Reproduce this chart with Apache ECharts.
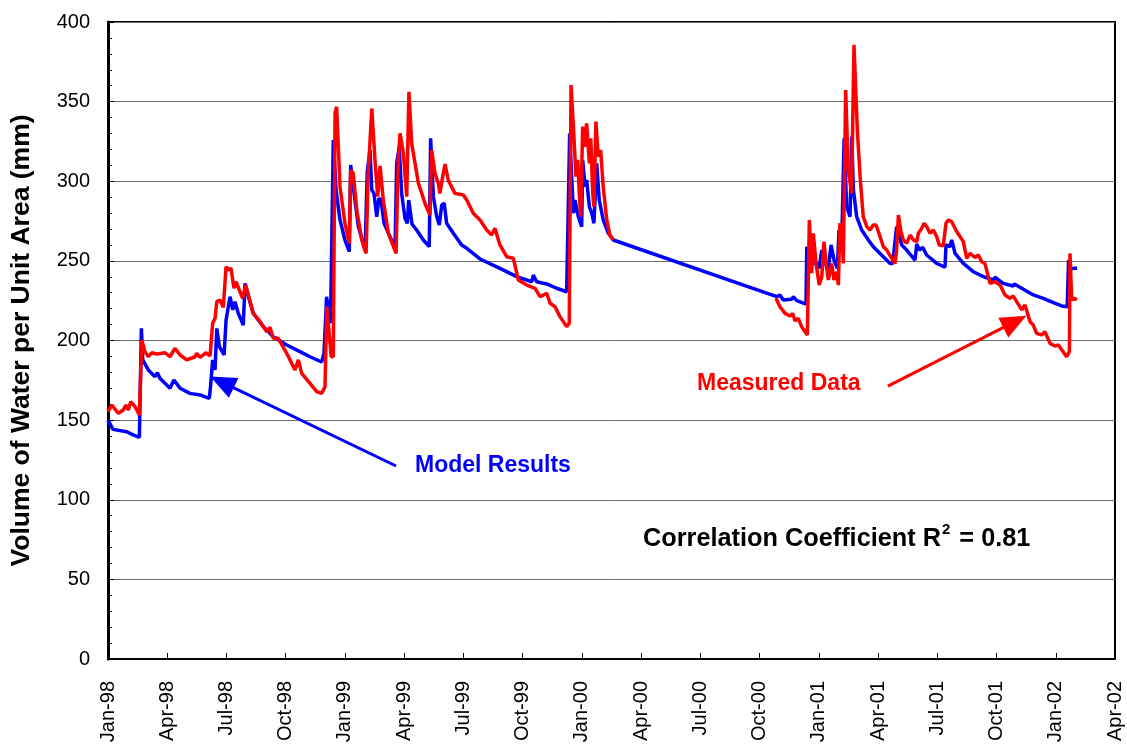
<!DOCTYPE html>
<html>
<head>
<meta charset="utf-8">
<script src="https://cdn.jsdelivr.net/npm/echarts@6/dist/echarts.min.js"></script>
<style>html,body{margin:0;padding:0;background:#fff}#c{width:1127px;height:748px}</style>
</head>
<body>
<div id="c"></div>
<script>
// x values are months since 1 Jan 1998
const modelX = [0,0.25,0.95,1.27,1.59,1.69,1.76,2.04,2.38,2.50,2.63,3.14,3.34,3.65,4.15,4.66,5.13,5.20,5.30,5.42,5.51,5.64,5.88,5.98,6.18,6.32,6.43,6.60,6.85,6.94,7.11,7.36,7.87,8.37,9.05,9.72,10.23,10.82,10.94,11.07,11.27,11.41,11.55,11.75,12.00,12.22,12.29,12.42,12.68,13.02,13.13,13.27,13.36,13.47,13.61,13.72,13.83,13.98,14.28,14.54,14.62,14.75,14.87,15.04,15.16,15.23,15.40,15.63,15.97,16.27,16.34,16.48,16.65,16.78,16.90,17.03,17.15,17.49,17.91,18.17,18.84,19.85,20.70,21.46,21.54,21.71,22.22,22.72,23.23,23.33,23.38,23.57,23.65,23.82,23.99,24.04,24.16,24.24,24.38,24.50,24.61,24.75,24.88,25.08,25.34,25.59,33.87,34.03,34.20,34.62,34.71,34.88,35.35,35.39,35.55,35.89,36.02,36.15,36.31,36.48,36.62,36.77,36.94,37.02,37.16,37.28,37.41,37.58,37.67,37.75,37.92,38.17,38.51,38.76,39.10,39.61,39.74,39.94,40.20,40.45,40.87,40.96,41.09,41.26,41.46,41.97,42.39,42.44,42.64,42.73,42.90,43.32,43.82,44.33,44.84,44.92,45.34,45.84,45.90,46.36,46.86,47.37,47.88,48.30,48.58,48.65,48.77,48.87,49.08];
const modelY = [150,144.2,142.7,140.7,139.2,207.6,187.8,181.5,177.3,179.8,176.3,170.0,175.2,170.0,166.8,165.8,163.7,172,187.8,181.5,207.6,196.1,190.9,212.9,227.5,219.2,224.4,217,209.7,235.9,227.5,217,208.7,202.4,197.2,193,189.8,186.5,192,227.5,210.8,325.9,294.5,275.7,263.1,255.8,310.2,296.6,271.5,256.8,306,319.6,294.5,292.4,277.7,289.3,288.2,273.6,265.2,258.9,311.2,321.7,292.4,276.7,273.6,288.2,273,269.4,263.1,258.9,327,290.3,277.7,272.5,285,286.2,273.6,267.3,260,257.9,251.2,245.3,240.1,236.9,241.1,236.9,235.5,232.8,230.6,231,330,279.9,288.2,277.7,271.5,313.4,296.6,300.8,284,279.9,273.6,311.2,288.2,275.7,267.3,263.1,227.5,228.6,225.4,225.9,227.5,225,222.9,258.9,248.4,248.4,245.3,256.8,248.4,245.3,260,250.5,245.3,269.4,261,327,284,277.7,328,294.5,277.7,269.4,263.1,258.9,254.7,248.4,248.4,271.5,260,256.8,250.5,260.6,256.8,258.5,253.7,248.4,246,260,258.9,263.1,254.7,248.4,243.2,240.1,238,239.7,235.9,234.2,235.5,232.2,228.6,226.5,223.8,221.7,221.2,250.5,245,244.3,245.5];

const measuredX = [0,0.19,0.52,0.77,0.91,1.03,1.15,1.37,1.59,1.71,1.87,2.04,2.21,2.47,2.89,3.14,3.39,3.65,3.99,4.41,4.49,4.66,4.96,5.17,5.30,5.42,5.51,5.67,5.84,5.98,6.09,6.23,6.38,6.48,6.65,6.82,6.97,7.11,7.36,7.70,8.04,8.20,8.37,8.62,9.05,9.47,9.64,9.81,10.23,10.57,10.82,10.99,11.08,11.20,11.30,11.41,11.50,11.58,11.75,12.00,12.22,12.29,12.42,12.60,12.85,13.07,13.18,13.36,13.52,13.66,13.78,13.94,14.20,14.59,14.70,14.79,14.96,15.13,15.24,15.38,15.72,15.89,16.05,16.31,16.39,16.56,16.73,16.81,16.95,17.07,17.23,17.57,18.00,18.17,18.50,18.84,19.18,19.43,19.60,19.85,20.19,20.53,20.78,21.21,21.63,21.88,22.22,22.39,22.64,22.89,23.23,23.36,23.45,23.57,23.70,23.79,23.87,23.94,24.04,24.16,24.24,24.38,24.45,24.55,24.61,24.71,24.83,24.95,25.08,25.26,25.42,25.59,29.7,33.83,34.03,34.29,34.54,34.68,34.79,34.96,35.13,35.42,35.52,35.64,35.72,35.86,36.02,36.15,36.26,36.37,36.48,36.65,36.77,36.91,36.99,37.07,37.16,37.24,37.36,37.49,37.66,37.78,37.95,38.09,38.25,38.43,38.59,38.76,38.90,39.10,39.27,39.44,39.69,39.86,39.94,40.03,40.15,40.28,40.45,40.62,40.79,40.96,41.04,41.21,41.33,41.46,41.63,41.80,41.97,42.10,42.30,42.44,42.56,42.73,42.98,43.32,43.49,43.66,43.91,44.08,44.25,44.41,44.67,44.92,45.18,45.43,45.68,45.85,46.02,46.28,46.44,46.70,46.86,47.03,47.29,47.45,47.71,47.96,48.13,48.37,48.55,48.69,48.72,48.81,48.95,49.06];
const measuredY = [155.3,159.5,154.3,156.4,159.5,156.4,161.6,158.5,153.2,200.3,193,189.8,192.3,191.5,192.3,189.8,195.1,190.9,187.8,189.8,192,189.4,192.3,190.3,210.8,213.9,224.4,225.4,220.8,246.4,244.3,245.3,232.8,236.9,231.7,226.5,234.8,228.6,217,211.8,205.5,208.3,201.4,201.4,192,181.5,187.8,179.4,173.1,167.9,166.8,171,221.3,205,190,189.8,342.7,346.8,296.6,273.6,261,307.1,305,281.9,263.1,254.7,305,345.7,313.4,290.3,309.6,288.2,267.3,254.7,313.4,330.1,317.5,290.3,356.2,323.8,298.7,292.4,286.2,278.8,319.6,305,298.7,292.4,302.9,310.8,300.8,292.4,291.4,288.2,279.9,275.7,269.4,266.2,270.4,260,252.6,251.6,238,234.8,232.8,227.5,229.6,223.4,221.2,215,208.7,210.8,360.4,334.3,302.9,313.4,292.4,277.7,334.3,321.7,336.4,311.2,327,292.4,284,337.5,315.5,319.6,296.6,275.7,266.2,263.1,null,226.5,221.2,217,215.4,217,212.4,213.9,208.7,203.5,275.7,242.2,267.3,248.4,234.8,240.1,262.1,248.4,238,248.4,238,243.2,234.8,273.6,269.4,248.4,357.3,307.1,292.4,385.6,332.2,302.9,277.7,271.5,269.4,272.5,272.5,265.2,258.9,256.8,251.6,248.4,256.8,278.8,269,263.1,261,266.2,263.1,262.1,267.3,270.4,273.6,271.5,267.3,269.4,265.2,260,259.4,273.6,275.7,274.6,268.4,262.1,251.6,254.7,252.1,253.7,249.5,248.4,235.9,236.9,234.8,228.6,226.5,227.9,224.4,219.2,222.3,211.8,209.7,204.5,203.5,205.5,198.2,196.5,197.2,193,189.8,193,254.7,225.4,226.5,225.4];

const quarterNames = ['Jan','Apr','Jul','Oct'];
const yTicks = [0,50,100,150,200,250,300,350,400];

const zip = (xs, ys) => xs.map((x, i) => [x, ys[i]]);

const FONT = '"Liberation Sans", Arial, sans-serif';
const chart = echarts.init(document.getElementById('c'), null, {renderer: 'canvas'});
chart.setOption({
  animation: false,
  backgroundColor: '#fff',
  grid: {left: 108, right: 12, top: 22, bottom: 89, show: true, borderColor: '#000', borderWidth: 2, backgroundColor: 'transparent', containLabel: false, outerBoundsMode: 'none'},
  xAxis: {
    type: 'value', min: 0, max: 51, interval: 3,
    axisLine: {show: true, lineStyle: {color: '#000', width: 2}},
    axisTick: {show: true, inside: true, length: 6, lineStyle: {color: '#000', width: 1}},
    splitLine: {show: false},
    axisLabel: {
      rotate: 90, margin: 22, color: '#000', fontSize: 20, fontFamily: FONT,
      formatter: v => {
        const q = Math.round(v / 3);
        const yr = (98 + Math.floor(q / 4)) % 100;
        return quarterNames[q % 4] + '-' + String(yr).padStart(2, '0');
      }
    }
  },
  yAxis: {
    type: 'value', min: yTicks[0], max: yTicks[yTicks.length - 1], interval: 50,
    name: 'Volume of Water per Unit Area (mm)', nameLocation: 'middle', nameGap: 73,
    nameTextStyle: {fontSize: 26.5, fontWeight: 'bold', color: '#000', fontFamily: FONT},
    axisLine: {show: true, lineStyle: {color: '#000', width: 3}},
    axisTick: {show: true, inside: true, length: 6, lineStyle: {color: '#000'}},
    minorTick: {show: true, splitNumber: 5, length: 4, lineStyle: {color: '#000'}},
    splitLine: {show: true, lineStyle: {color: '#6e6e6e', width: 1}},
    axisLabel: {color: '#000', fontSize: 20, fontFamily: FONT, margin: 18}
  },
  series: [
    {
      name: 'Model Results', type: 'line', data: zip(modelX, modelY),
      showSymbol: false, symbol: 'none', smooth: false,
      lineStyle: {color: '#0000ff', width: 3.5}, itemStyle: {color: '#0000ff'},
      markLine: {
        silent: true, symbol: ['none', 'triangle'], symbolSize: [22, 26],
        label: {show: false},
        lineStyle: {color: '#0000ff', width: 3, type: 'solid'},
        data: [[{coord: [14.59, 121.2]}, {coord: [5.77, 173.8]}]]
      }
    },
    {
      name: 'Measured Data', type: 'line', data: zip(measuredX, measuredY),
      showSymbol: false, symbol: 'none', smooth: false, connectNulls: false,
      lineStyle: {color: '#ff0000', width: 3.5}, itemStyle: {color: '#ff0000'},
      markLine: {
        silent: true, symbol: ['none', 'triangle'], symbolSize: [22, 26],
        label: {show: false},
        lineStyle: {color: '#ff0000', width: 3, type: 'solid'},
        data: [[{coord: [39.5, 171.4]}, {coord: [45.93, 211.8]}]]
      }
    }
  ],
  graphic: [
    {type: 'text', left: 415, top: 454, style: {text: 'Model Results', fill: '#0000ff', font: 'bold 23px ' + FONT}},
    {type: 'text', left: 697, top: 372, style: {text: 'Measured Data', fill: '#ff0000', font: 'bold 23px ' + FONT}},
    {type: 'text', left: 643, top: 522, style: {
      text: '{a|Correlation Coefficient R}{s|2}{a| = 0.81}',
      rich: {
        a: {fontSize: 25.3, fontWeight: 'bold', fontFamily: FONT, fill: '#000', color: '#000', verticalAlign: 'bottom', lineHeight: 30},
        s: {fontSize: 15, fontWeight: 'bold', fontFamily: FONT, fill: '#000', color: '#000', verticalAlign: 'top', lineHeight: 30, padding: [0, 2, 13, 1]}
      }
    }}
  ]
});
</script>
</body>
</html>
